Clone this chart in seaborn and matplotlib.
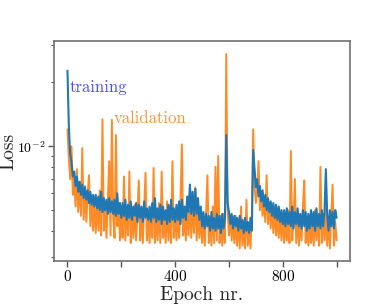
import numpy as np
import pandas as pd
import matplotlib
matplotlib.use("Agg")
import matplotlib.pyplot as plt
import matplotlib.ticker as mticker
import seaborn as sns

# epochs sampled every 5 epochs (0..1000); losses in units of 1e-3
epochs = list(range(0, 1001, 5))

training_milli = [
    22.7, 12.5, 9.2, 8.4, 7.2, 7.6, 6.5, 7.2, 6.1, 6.8, 5.9, 6.6, 5.7, 6.4, 5.6, 6.2, 5.4, 6.1, 5.3, 5.9,
    5.2, 5.9, 5.1, 5.8, 5.0, 6.1, 4.9, 5.7, 5.0, 5.6, 4.8, 5.7, 4.9, 5.5, 4.8, 5.6, 4.7, 6.0, 4.8, 5.4,
    4.6, 5.4, 4.7, 5.6, 4.5, 5.3, 4.6, 5.5, 4.5, 5.2, 4.7, 5.4, 4.4, 5.3, 4.6, 5.2, 4.4, 5.5, 4.6, 5.1,
    4.5, 5.2, 4.4, 5.4, 4.6, 5.7, 4.4, 5.1, 4.5, 5.3, 4.3, 5.2, 4.5, 5.0, 4.3, 5.3, 4.4, 5.6, 4.5, 5.1,
    4.4, 5.3, 4.5, 5.5, 4.3, 5.6, 4.6, 5.2, 4.5, 5.8, 4.9, 6.6, 4.8, 6.1, 4.7, 6.3, 4.8, 5.7, 4.5, 5.2,
    4.2, 4.9, 4.1, 4.8, 4.2, 4.7, 4.0, 4.9, 4.1, 4.6, 4.0, 4.8, 4.1, 4.7, 3.9, 4.8, 4.1, 4.6, 11.3, 5.4,
    4.9, 4.3, 4.8, 4.1, 4.7, 4.2, 4.6, 4.0, 4.7, 4.1, 4.5, 3.9, 4.6, 4.0, 4.4, 3.9, 4.6, 4.0, 9.6, 7.8,
    6.4, 7.0, 5.8, 6.5, 5.5, 6.2, 5.2, 5.9, 5.0, 5.7, 4.9, 5.5, 4.7, 5.4, 4.6, 5.3, 4.5, 5.2, 4.4, 5.0,
    4.3, 5.0, 4.2, 5.1, 4.3, 4.9, 4.2, 5.2, 4.1, 4.9, 4.3, 5.1, 4.2, 4.8, 4.1, 5.0, 4.2, 4.9, 4.0, 4.8,
    4.1, 5.0, 4.2, 4.9, 4.0, 5.1, 4.2, 4.8, 4.1, 5.0, 4.2, 4.9, 7.8, 4.8, 4.0, 5.0, 4.2, 4.9, 4.1, 5.0,
    4.6,
]

validation_milli = [
    12.0, 8.8, 7.0, 10.0, 5.9, 7.2, 5.2, 7.8, 4.9, 6.8, 4.7, 9.8, 4.5, 6.5, 4.4, 6.0, 7.3, 4.2, 5.8, 4.0,
    5.6, 3.9, 5.3, 4.0, 6.2, 3.8, 13.4, 4.0, 5.1, 3.7, 5.6, 8.5, 3.8, 13.3, 4.6, 3.7, 11.3, 4.2, 5.4, 3.6,
    4.8, 3.7, 7.2, 3.6, 5.0, 3.8, 7.6, 3.5, 4.7, 3.7, 5.3, 3.6, 4.9, 6.9, 3.6, 4.6, 3.5, 5.2, 7.5, 3.6,
    4.7, 3.5, 5.1, 3.7, 7.9, 3.5, 4.8, 3.6, 5.4, 3.5, 7.6, 3.7, 4.6, 3.5, 5.5, 3.6, 4.9, 3.5, 8.5, 3.7,
    5.0, 3.6, 4.8, 3.7, 5.6, 10.2, 3.8, 4.9, 3.6, 5.3, 3.8, 6.0, 3.7, 5.5, 3.9, 6.4, 3.6, 5.0, 3.7, 4.8,
    3.5, 4.6, 3.4, 4.9, 7.3, 3.5, 4.5, 3.4, 5.2, 3.5, 8.0, 3.6, 9.0, 3.5, 4.7, 3.4, 4.8, 3.5, 27.2, 5.0,
    3.8, 4.6, 3.6, 4.4, 3.5, 4.7, 3.4, 4.5, 3.3, 5.2, 3.4, 4.4, 3.3, 5.6, 3.4, 4.3, 3.3, 4.8, 12.0, 6.5,
    5.4, 6.4, 8.5, 5.0, 6.0, 4.7, 5.6, 4.4, 7.3, 4.3, 5.4, 4.1, 5.0, 3.9, 5.1, 3.8, 4.8, 3.7, 4.9, 3.6,
    4.7, 3.5, 4.6, 3.6, 5.0, 3.5, 9.5, 3.6, 4.5, 7.0, 3.5, 4.8, 3.4, 4.6, 3.6, 5.3, 6.9, 3.5, 4.5, 3.4,
    4.7, 3.5, 4.4, 3.4, 5.0, 3.6, 4.6, 3.4, 8.0, 3.5, 4.8, 3.6, 5.6, 3.4, 4.5, 3.3, 4.7, 6.6, 3.4, 4.4,
    3.6,
]

x_ticks = [0, 400, 800]
x_label = "Epoch nr."
y_label = "Loss"

sns.set_style("ticks")
plt.rcParams["font.family"] = "serif"
plt.rcParams["font.serif"] = ["cmr10"]
plt.rcParams["mathtext.fontset"] = "cm"
plt.rcParams["axes.formatter.use_mathtext"] = True
plt.rcParams["axes.unicode_minus"] = False

df = pd.DataFrame({
    "epoch": epochs,
    "training": np.array(training_milli) * 1e-3,
    "validation": np.array(validation_milli) * 1e-3,
})

fig = plt.figure(figsize=(3.82, 3.04), dpi=100)
ax = fig.add_axes([0.1414, 0.1414, 0.775, 0.7237])

sns.lineplot(data=df, x="epoch", y="validation", ax=ax, color="#ff7f0e", lw=1.4, alpha=0.9, zorder=2)
sns.lineplot(data=df, x="epoch", y="training", ax=ax, color="#1f77b4", lw=1.5, zorder=3)

ax.set_yscale("log")
ax.set_xlim(-50, 1050)
ax.set_ylim(2.88e-3, 3.13e-2)

ax.xaxis.set_major_locator(mticker.FixedLocator(x_ticks))
ax.xaxis.set_minor_locator(mticker.FixedLocator([200, 600, 1000]))
ax.yaxis.set_minor_formatter(mticker.NullFormatter())

ax.text(7, 0.0190, "training", color="blue", alpha=0.7, fontsize=12, va="center", ha="left")
ax.text(171, 0.0135, "validation", color="#ff7f0e", alpha=0.85, fontsize=12, va="center", ha="left")

ax.set_xlabel(x_label, fontsize=14, labelpad=1)
ax.set_ylabel(y_label, fontsize=14)
ax.yaxis.set_label_coords(-0.125, 0.5)

for s in ax.spines.values():
    s.set_color("#707070")
    s.set_linewidth(1.2)
ax.tick_params(axis="both", which="both", colors="#555555", labelcolor="black", direction="out")
ax.tick_params(axis="both", which="major", length=4, width=1, pad=2)
ax.tick_params(axis="x", which="major", labelsize=11)
ax.tick_params(axis="y", which="major", labelsize=10)
ax.tick_params(axis="x", which="minor", length=4, width=1)
ax.tick_params(axis="y", which="minor", length=2.5, width=0.8)

fig.savefig("out.png", dpi=100)
